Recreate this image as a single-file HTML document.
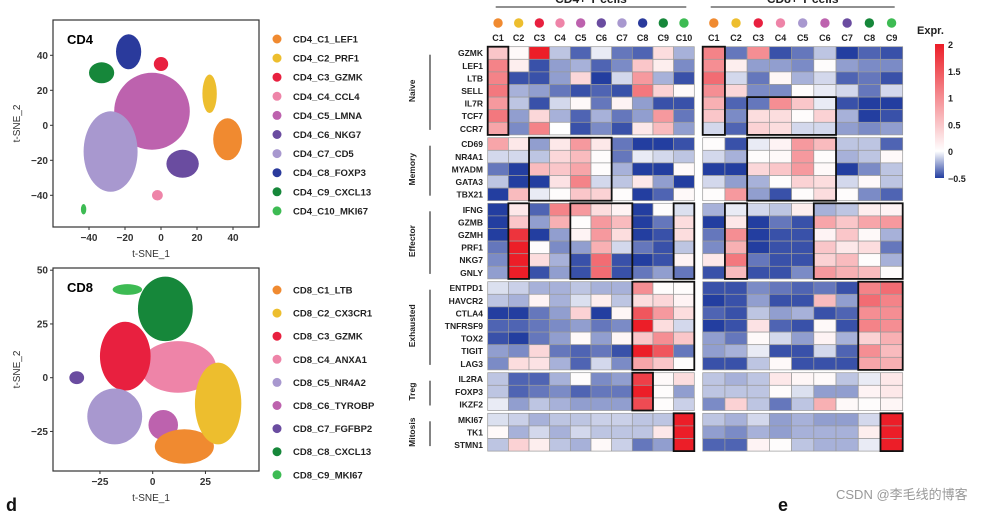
<!DOCTYPE html>
<html><head><meta charset="utf-8"><style>
body{margin:0;background:#fff;}
svg{display:block;font-family:"Liberation Sans",Arial,"Noto Sans CJK SC",sans-serif;}
</style></head><body>
<svg id="fig" width="1003" height="511" viewBox="0 0 1003 511" xmlns="http://www.w3.org/2000/svg"></svg>
<script>
// ---------- data ----------
const cd4Names=["CD4_C1_LEF1","CD4_C2_PRF1","CD4_C3_GZMK","CD4_C4_CCL4","CD4_C5_LMNA","CD4_C6_NKG7","CD4_C7_CD5","CD4_C8_FOXP3","CD4_C9_CXCL13","CD4_C10_MKI67"];
const cd4Colors=["#F08A30","#EDBE2E","#E8203F","#EE84A8","#BD62AE","#6A4CA0","#A898CF","#2A3A9C","#16873A","#3DBB53"];
const cd4Cx=[37,27,0,-2,-5,12,-28,-18,-33,-43];
const cd4Cy=[-8,18,35,-40,8,-22,-15,42,30,-48];
const cd4Rx=[8,4,4,3,21,9,15,7,7,1.5];
const cd4Ry=[12,11,4,3,22,8,23,10,6,3];
const cd4Order=[4,6,0,1,2,3,5,7,8,9];
const cd8Names=["CD8_C1_LTB","CD8_C2_CX3CR1","CD8_C3_GZMK","CD8_C4_ANXA1","CD8_C5_NR4A2","CD8_C6_TYROBP","CD8_C7_FGFBP2","CD8_C8_CXCL13","CD8_C9_MKI67"];
const cd8Colors=["#F08A30","#EDBE2E","#E8203F","#EE84A8","#A898CF","#BD62AE","#6A4CA0","#16873A","#3DBB53"];
const cd8Cx=[15,31,-13,12,-18,5,-36,6,-12];
const cd8Cy=[-32,-12,10,5,-18,-22,0,32,41];
const cd8Rx=[14,11,12,18,13,7,3.5,13,7];
const cd8Ry=[8,19,16,12,13,7,3,15,2.5];
const cd8Order=[3,2,4,5,0,1,6,7,8];

const genes=["GZMK","LEF1","LTB","SELL","IL7R","TCF7","CCR7","CD69","NR4A1","MYADM","GATA3","TBX21","IFNG","GZMB","GZMH","PRF1","NKG7","GNLY","ENTPD1","HAVCR2","CTLA4","TNFRSF9","TOX2","TIGIT","LAG3","IL2RA","FOXP3","IKZF2","MKI67","TK1","STMN1"];
const groupNames=["Naive","Memory","Effector","Exhausted","Treg","Mitosis"];
const groupSizes=[7,5,6,7,3,3];
const cd4Cols=["C1","C2","C3","C4","C5","C6","C7","C8","C9","C10"];
const cd8Cols=["C1","C2","C3","C4","C5","C6","C7","C8","C9"];
const cd4Vals=[
[0.5,0.05,2,-0.15,-0.4,-0.05,-0.35,-0.4,0.3,-0.2],
[1.1,0.15,-0.45,-0.25,-0.2,-0.4,-0.3,0.5,0.15,-0.3],
[1.1,-0.45,-0.45,-0.25,0.35,-0.5,-0.1,0.9,-0.2,-0.45],
[1.2,-0.2,-0.25,-0.35,-0.45,-0.4,-0.45,1.2,0.4,0.05],
[0.9,-0.15,-0.45,-0.1,0.05,-0.35,0.1,-0.25,-0.45,-0.45],
[1.2,-0.25,0.35,-0.2,-0.4,-0.2,-0.35,-0.25,0.9,-0.35],
[0.8,-0.3,1.1,0,-0.45,-0.3,-0.45,0.2,0.6,-0.25],
[0.8,0.2,-0.25,0.2,0.9,0.2,-0.35,-0.5,-0.5,-0.45],
[-0.1,-0.1,-0.15,0.35,0.6,0.02,-0.35,-0.05,-0.1,-0.15],
[-0.35,-0.5,0.6,0.5,0.8,0.02,-0.2,-0.5,-0.5,0.05],
[-0.15,-0.5,-0.5,0.25,1.1,-0.1,-0.15,0.2,-0.25,-0.5],
[-0.5,0.6,-0.05,0.02,0.5,0.4,0.02,-0.5,-0.4,0.05],
[-0.5,0.2,-0.4,1.1,0.9,0.3,0.1,-0.5,0.02,-0.08],
[-0.5,0.5,-0.25,0.7,0.02,0.9,0.6,-0.5,-0.35,0.3],
[-0.5,1.8,-0.5,-0.25,0.1,0.9,0.3,-0.5,-0.45,0.3],
[-0.35,2,0.02,-0.3,-0.25,0.7,-0.1,-0.35,-0.45,-0.15],
[-0.3,2,0.3,-0.2,-0.45,1.3,-0.45,-0.5,-0.45,0.1],
[-0.25,2,-0.45,-0.25,-0.45,1.3,-0.45,-0.35,-0.25,-0.35],
[-0.08,-0.12,-0.2,-0.2,-0.15,-0.2,-0.2,1.0,0.02,0.02],
[-0.15,-0.2,0.1,-0.2,-0.08,0.15,-0.15,0.3,0.35,0.1],
[-0.5,-0.5,-0.35,-0.25,0.4,-0.5,0.08,1.5,0.9,0.3],
[-0.4,-0.4,-0.35,-0.3,-0.25,-0.35,-0.3,2,0.3,-0.1],
[-0.45,-0.5,-0.35,-0.25,0.05,-0.25,0.08,0.5,1.0,0.5],
[-0.25,-0.3,0.35,-0.35,-0.4,-0.35,-0.45,2,1.5,-0.35],
[-0.3,0.3,0.25,-0.2,-0.4,-0.1,-0.3,0.8,0.5,0.02],
[-0.15,-0.4,-0.4,-0.2,0.02,-0.3,-0.25,1.7,0.05,0.3],
[-0.15,-0.4,-0.35,-0.3,-0.4,-0.35,-0.35,2,0.02,-0.25],
[-0.05,-0.25,-0.15,-0.2,-0.25,-0.25,-0.25,1.6,0.02,-0.12],
[-0.08,-0.12,-0.2,-0.15,-0.15,-0.12,-0.12,-0.15,-0.15,2],
[0.05,-0.2,-0.1,-0.2,-0.1,-0.15,-0.15,-0.15,0.2,2],
[-0.15,0.4,0.15,-0.15,-0.2,0.05,-0.12,-0.35,-0.25,2]];
const cd8Vals=[
[1.1,-0.35,1.0,-0.45,-0.35,-0.15,-0.5,-0.4,-0.45],
[1.0,0.15,-0.25,-0.25,-0.3,0.02,-0.25,-0.3,-0.3],
[1.3,-0.1,-0.35,0.08,-0.2,-0.1,-0.4,-0.35,-0.45],
[1.0,0.35,-0.3,-0.3,0.02,-0.05,-0.1,-0.35,-0.1],
[0.7,-0.4,-0.35,1.0,0.5,-0.05,-0.45,-0.5,-0.5],
[0.5,-0.3,0.3,0.3,0.02,0.4,-0.2,-0.5,-0.45],
[-0.1,-0.4,0.4,0.3,-0.1,-0.1,-0.25,-0.3,-0.25],
[0.02,-0.45,-0.05,0.1,0.9,0.6,-0.15,-0.15,-0.4],
[-0.1,-0.2,0.02,0.05,0.9,0.02,-0.2,-0.15,0.05],
[-0.5,-0.5,0.35,0.5,0.9,0.05,-0.5,-0.3,-0.15],
[-0.1,-0.25,-0.2,0.02,0.4,0.3,-0.1,0.05,-0.15],
[0.02,0.9,-0.25,-0.45,0.02,0.3,0.02,-0.3,-0.4],
[-0.2,-0.05,-0.1,-0.15,0.15,-0.2,-0.15,0.15,0.1],
[-0.5,0.2,-0.5,-0.35,-0.45,0.8,0.5,0.8,0.9],
[-0.35,1.0,-0.5,-0.45,-0.45,0.1,0.5,0.05,-0.2],
[-0.3,0.7,-0.5,-0.45,-0.45,0.5,0.2,0.3,-0.35],
[0.2,1.2,-0.35,-0.45,-0.45,0.4,0.6,0.02,-0.2],
[-0.45,0.6,-0.45,-0.45,-0.3,0.9,0.7,0.6,0.02],
[-0.45,-0.45,-0.3,-0.35,-0.4,-0.35,-0.45,1.1,1.3],
[-0.5,-0.45,-0.25,-0.45,-0.45,0.6,-0.25,1.3,1.1],
[-0.4,-0.45,-0.15,-0.25,-0.2,-0.45,-0.4,1.0,1.0],
[-0.5,-0.45,0.25,-0.4,-0.45,0.05,-0.45,1.1,1.0],
[-0.25,-0.35,0.05,-0.1,-0.25,0.1,-0.2,0.4,0.7],
[-0.25,-0.2,-0.05,-0.45,-0.45,-0.1,-0.4,1.0,0.6],
[-0.45,-0.45,-0.15,0.05,-0.45,-0.45,-0.45,0.8,0.7],
[-0.15,-0.2,-0.15,0.2,0.08,0.05,-0.15,-0.05,0.2],
[-0.15,-0.15,-0.15,0.03,-0.08,-0.25,-0.25,0.1,0.2],
[-0.3,0.4,-0.15,-0.35,-0.15,0.7,0.05,0.02,0.08],
[-0.15,-0.2,-0.1,-0.25,-0.2,-0.25,-0.25,-0.1,2],
[-0.25,-0.3,-0.2,-0.25,-0.2,-0.2,-0.2,0.15,2],
[-0.4,-0.4,0.1,0.02,-0.15,-0.2,-0.2,-0.05,2]];
const cd4Boxes=[[0,6,0,0],[7,11,2,5],[12,17,1,1],[12,17,4,6],[12,17,9,9],[18,24,7,9],[25,27,7,7],[28,30,9,9]];
const cd8Boxes=[[0,6,0,0],[4,6,2,5],[7,11,2,5],[12,17,1,1],[12,17,5,8],[18,24,7,8],[28,30,8,8]];
const legendTicks=[2,1.5,1,0.5,0,-0.5];

// ---------- helpers ----------
const NS="http://www.w3.org/2000/svg";
const svg=document.getElementById('fig');
function el(tag,attrs,parent){const e=document.createElementNS(NS,tag);for(const k in attrs)e.setAttribute(k,attrs[k]);(parent||svg).appendChild(e);return e;}
function txt(s,attrs,parent){const e=el('text',attrs,parent);e.textContent=s;return e;}
function color(v){let r,g,b;if(v<0){const t=Math.min(1,-v/0.5);r=255+(35-255)*t;g=255+(62-255)*t;b=255+(160-255)*t;}else{const t=Math.min(1,v/2);r=255+(236-255)*t;g=255+(30-255)*t;b=255+(40-255)*t;}return `rgb(${r|0},${g|0},${b|0})`;}

// ---------- tSNE plots ----------
function tsne(cfg){
  const g=el('g',{});
  
  
  const sx=v=>cfg.x0+v*cfg.kx, sy=v=>cfg.y0-v*cfg.ky;
  for(const i of cfg.order){
    const c=el('ellipse',{cx:sx(cfg.cx[i]),cy:sy(cfg.cy[i]),rx:cfg.rx[i]*cfg.kx,ry:cfg.ry[i]*cfg.ky,fill:cfg.colors[i]},g);
    
    
  }
  const f=el('rect',{x:cfg.bx,y:cfg.by,width:cfg.bw,height:cfg.bh,fill:'none',stroke:'#333','stroke-width':1.2},g);
  
  
  const t=txt(cfg.title,{x:cfg.bx+14,y:cfg.by+24,'font-size':13,'font-weight':'bold'},g);
  
  
  for(const v of cfg.xt){const tx=txt(v===0?'0':String(v).replace('-','−'),{x:sx(v),y:cfg.by+cfg.bh+14,'font-size':10,'font-weight':'bold','text-anchor':'middle',fill:'#333'},g);
    
    
    el('line',{x1:sx(v),x2:sx(v),y1:cfg.by+cfg.bh,y2:cfg.by+cfg.bh+3,stroke:'#333'},g);}
  for(const v of cfg.yt){const ty=txt(String(v).replace('-','−'),{x:cfg.bx-5,y:sy(v)+3.5,'font-size':10,'font-weight':'bold','text-anchor':'end',fill:'#333'},g);
    
    
    el('line',{x1:cfg.bx-3,x2:cfg.bx,y1:sy(v),y2:sy(v),stroke:'#333'},g);}
  const xl=txt('t-SNE_1',{x:cfg.bx+cfg.bw/2-5,y:cfg.by+cfg.bh+30,'font-size':10,'text-anchor':'middle',fill:'#333'},g);
  
  
  const yl=txt('t-SNE_2',{x:0,y:0,'font-size':10,'text-anchor':'middle',fill:'#333',transform:`translate(${cfg.bx-33},${cfg.by+cfg.bh/2}) rotate(-90)`},g);
  
  
  cfg.names.forEach((n,i)=>{
    const y=cfg.ly+i*cfg.lstep;
    const d=el('circle',{cx:277,cy:y,r:4.5,fill:cfg.colors[i]},g);
    
    
    const lt=txt(n,{x:293,y:y+3.5,'font-size':9.5,'font-weight':'bold',fill:'#222'},g);
    
    
  });
}
tsne({name:'cd4-tsne-plot',title:'CD4',names:cd4Names,colors:cd4Colors,cx:cd4Cx,cy:cd4Cy,rx:cd4Rx,ry:cd4Ry,order:cd4Order,
  x0:161,kx:1.8,y0:125.3,ky:1.75,bx:53,by:20,bw:206,bh:207,xt:[-40,-20,0,20,40],yt:[40,20,0,-20,-40],ly:39,lstep:19.1});
tsne({name:'cd8-tsne-plot',title:'CD8',names:cd8Names,colors:cd8Colors,cx:cd8Cx,cy:cd8Cy,rx:cd8Rx,ry:cd8Ry,order:cd8Order,
  x0:152.7,kx:2.11,y0:377.7,ky:2.15,bx:53,by:268,bw:206,bh:203,xt:[-25,0,25],yt:[50,25,0,-25],ly:290,lstep:23.1});

// ---------- heatmaps ----------
const groupStarts=[46.7,137.7,203.3,281.7,372.7,413.3];
const rowH=12.6;
function rowY(r){let acc=0;for(let gi=0;gi<groupSizes.length;gi++){if(r<acc+groupSizes[gi])return groupStarts[gi]+(r-acc)*rowH;acc+=groupSizes[gi];}}
function heat(cfg){
  const g=el('g',{});
  
  
  const cw=(cfg.x1-cfg.x0)/cfg.cols.length;
  const cx=c=>cfg.x0+c*cw;
  cfg.vals.forEach((row,r)=>row.forEach((v,c)=>{
    const rc=el('rect',{x:cx(c),y:rowY(r),width:cw,height:rowH,fill:color(v),stroke:'#999','stroke-width':0.7},g);
    
    
  }));
  for(const b of cfg.boxes){
    const bx=el('rect',{x:cx(b[2]),y:rowY(b[0]),width:(b[3]-b[2]+1)*cw,height:rowY(b[1])+rowH-rowY(b[0]),fill:'none',stroke:'#111','stroke-width':1.8},g);
    
    
  }
  cfg.cols.forEach((c,i)=>{
    const d=el('circle',{cx:cx(i)+cw/2,cy:23,r:4.7,fill:cfg.colors[i]},g);
    
    
    const t=txt(c,{x:cx(i)+cw/2,y:41,'font-size':9,'font-weight':'bold','text-anchor':'middle',fill:'#222'},g);
    
    
  });
  el('line',{x1:cfg.x0+8,x2:cfg.x1-8,y1:7,y2:7,stroke:'#222','stroke-width':1},g);
  const tt=txt(cfg.title,{x:(cfg.x0+cfg.x1)/2,y:3,'font-size':12,'font-weight':'bold','text-anchor':'middle',fill:'#222'},g);
  
  
}
heat({name:'cd4-heatmap',title:'CD4+ T cells',x0:487.7,x1:694.3,cols:cd4Cols,vals:cd4Vals,boxes:cd4Boxes,colors:cd4Colors});
heat({name:'cd8-heatmap',title:'CD8+ T cells',x0:702.7,x1:902.7,cols:cd8Cols,vals:cd8Vals,boxes:cd8Boxes,colors:cd8Colors});

genes.forEach((gname,r)=>{
  const t=txt(gname,{x:483,y:rowY(r)+rowH/2+3.2,'font-size':8.5,'font-weight':'bold','text-anchor':'end',fill:'#222'});
  
  
});
groupNames.forEach((n,gi)=>{
  const y0=groupStarts[gi], y1=y0+groupSizes[gi]*rowH, mid=(y0+y1)/2;
  el('line',{x1:430,x2:430,y1:y0+8,y2:y1-5,stroke:'#333','stroke-width':1.2});
  const t=txt(n,{x:0,y:0,'font-size':8.5,'font-weight':'bold','text-anchor':'middle',fill:'#222',transform:`translate(415,${mid}) rotate(-90)`});
  
  
});

// color legend
const defs=el('defs',{});
const lg=el('linearGradient',{id:'grad',x1:0,y1:0,x2:0,y2:1},defs);
legendTicks.forEach((v,i)=>el('stop',{offset:(i/(legendTicks.length-1)),'stop-color':color(v)},lg));
const lgT=txt('Expr.',{x:917,y:34,'font-size':11,'font-weight':'bold',fill:'#222'});


const bar=el('rect',{x:935,y:44,width:9,height:134,fill:'url(#grad)'});


legendTicks.forEach((v,i)=>{
  const t=txt(String(v).replace('-','−'),{x:948,y:44+i*134/(legendTicks.length-1)+4,'font-size':9,'font-weight':'bold',fill:'#222'});
  
  
});

const pd=txt('d',{x:6,y:511,'font-size':18,'font-weight':'bold',fill:'#111'});


const pe=txt('e',{x:778,y:511,'font-size':18,'font-weight':'bold',fill:'#111'});


const wm=txt('CSDN @李毛线的博客',{x:836,y:499,'font-size':13,fill:'#999'});


</script>
</body></html>
